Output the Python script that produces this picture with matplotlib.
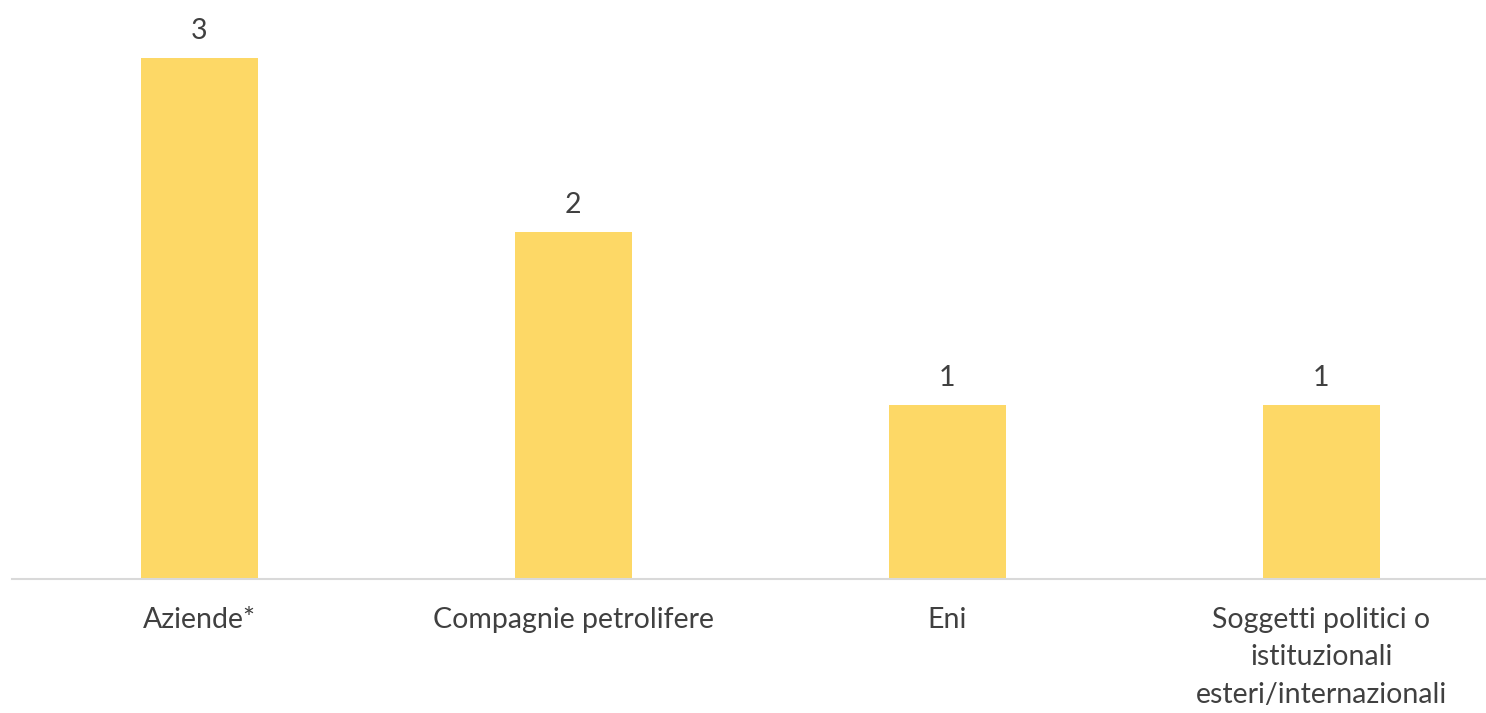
import matplotlib.pyplot as plt

categories = ["Aziende*", "Compagnie petrolifere", "Eni",
              "Soggetti politici o\nistituzionali\nesteri/internazionali"]
values = [3, 2, 1, 1]

plt.rcParams['font.family'] = ['Lato', 'DejaVu Sans']

fig = plt.figure(figsize=(14.86, 7.13), dpi=100)
ax = fig.add_axes([12 / 1486, (713 - 579) / 713, 1 - 12 / 1486, 579 / 713])

x = list(range(len(categories)))
bars = ax.bar(x, values, width=0.313, color="#FDD866")

for b, v in zip(bars, values):
    ax.text(b.get_x() + b.get_width() / 2, v + 0.08, str(v),
            ha="center", va="bottom", fontsize=20.5, color="#404040")

ax.set_xlim(-0.5, 3.44)
ax.set_ylim(0, 3.333)
ax.set_xticks(x)
ax.set_xticklabels(categories, fontsize=20.5, color="#404040", linespacing=1.55)
ax.tick_params(axis="x", length=0, pad=20)
ax.set_yticks([])
for s in ["top", "right", "left"]:
    ax.spines[s].set_visible(False)
ax.spines["bottom"].set_color("#D9D9D9")
ax.spines["bottom"].set_linewidth(1.5)

fig.savefig("out.png", dpi=100)
